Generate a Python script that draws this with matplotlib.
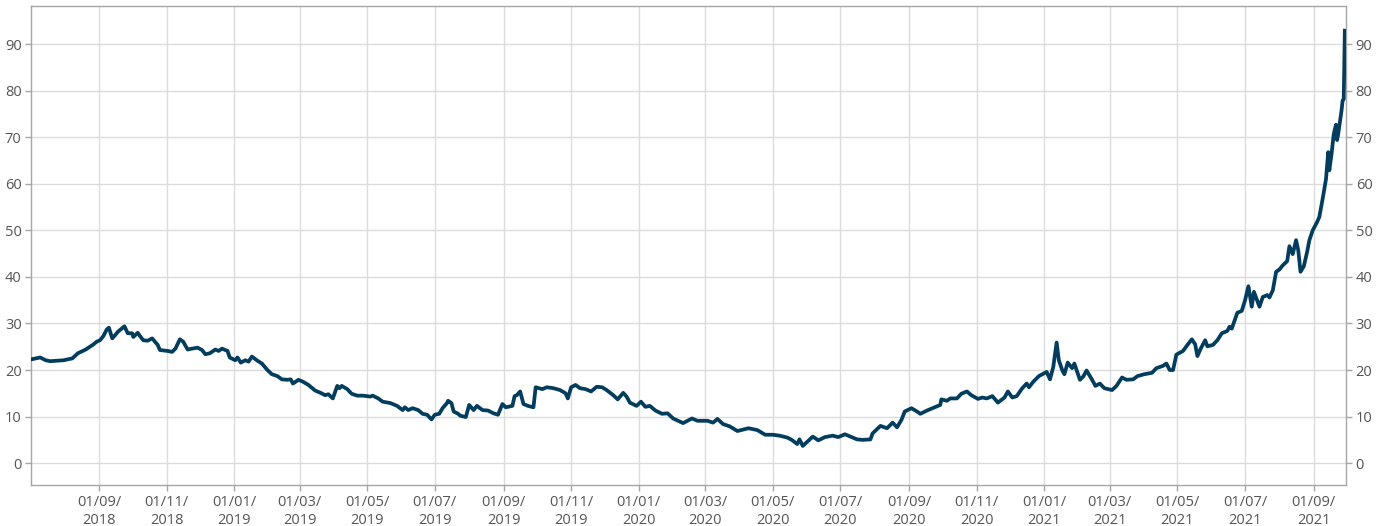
import matplotlib
matplotlib.use("Agg")
import matplotlib.pyplot as plt
import matplotlib.dates as mdates
import pandas as pd

dates = [
    "2018-07-02", "2018-07-10", "2018-07-15", "2018-07-19", "2018-07-31", "2018-08-08", "2018-08-13",
    "2018-08-20", "2018-08-27", "2018-08-30", "2018-09-02", "2018-09-05", "2018-09-08", "2018-09-10",
    "2018-09-13", "2018-09-16", "2018-09-18", "2018-09-24", "2018-09-27", "2018-10-01", "2018-10-02",
    "2018-10-06", "2018-10-08", "2018-10-11", "2018-10-15", "2018-10-19", "2018-10-24", "2018-10-26",
    "2018-11-02", "2018-11-06", "2018-11-09", "2018-11-13", "2018-11-16", "2018-11-20", "2018-11-24",
    "2018-11-29", "2018-12-03", "2018-12-06", "2018-12-10", "2018-12-15", "2018-12-18", "2018-12-21",
    "2018-12-26", "2018-12-28", "2019-01-02", "2019-01-04", "2019-01-07", "2019-01-11", "2019-01-14",
    "2019-01-17", "2019-01-22", "2019-01-26", "2019-01-31", "2019-02-04", "2019-02-09", "2019-02-13",
    "2019-02-18", "2019-02-21", "2019-02-23", "2019-02-28", "2019-03-04", "2019-03-09", "2019-03-15",
    "2019-03-20", "2019-03-24", "2019-03-27", "2019-03-31", "2019-04-04", "2019-04-06", "2019-04-08",
    "2019-04-13", "2019-04-17", "2019-04-22", "2019-04-27", "2019-05-04", "2019-05-06", "2019-05-11",
    "2019-05-15", "2019-05-22", "2019-05-28", "2019-06-02", "2019-06-04", "2019-06-07", "2019-06-11",
    "2019-06-16", "2019-06-20", "2019-06-24", "2019-06-28", "2019-07-01", "2019-07-05", "2019-07-08",
    "2019-07-12", "2019-07-13", "2019-07-16", "2019-07-18", "2019-07-22", "2019-07-24", "2019-07-29",
    "2019-08-01", "2019-08-05", "2019-08-08", "2019-08-13", "2019-08-18", "2019-08-23", "2019-08-27",
    "2019-08-31", "2019-09-03", "2019-09-09", "2019-09-11", "2019-09-13", "2019-09-16", "2019-09-19",
    "2019-09-23", "2019-09-28", "2019-09-30", "2019-10-06", "2019-10-10", "2019-10-16", "2019-10-22",
    "2019-10-27", "2019-10-29", "2019-11-01", "2019-11-05", "2019-11-09", "2019-11-14", "2019-11-19",
    "2019-11-24", "2019-11-29", "2019-12-03", "2019-12-09", "2019-12-13", "2019-12-18", "2019-12-21",
    "2019-12-24", "2019-12-30", "2020-01-03", "2020-01-07", "2020-01-11", "2020-01-16", "2020-01-22",
    "2020-01-27", "2020-02-01", "2020-02-10", "2020-02-18", "2020-02-23", "2020-03-03", "2020-03-08",
    "2020-03-12", "2020-03-17", "2020-03-23", "2020-03-30", "2020-04-09", "2020-04-17", "2020-04-24",
    "2020-05-01", "2020-05-07", "2020-05-14", "2020-05-18", "2020-05-23", "2020-05-25", "2020-05-28",
    "2020-06-01", "2020-06-06", "2020-06-11", "2020-06-17", "2020-06-24", "2020-06-29", "2020-07-05",
    "2020-07-10", "2020-07-16", "2020-07-21", "2020-07-28", "2020-07-30", "2020-08-06", "2020-08-12",
    "2020-08-15", "2020-08-17", "2020-08-21", "2020-08-25", "2020-08-28", "2020-09-03", "2020-09-08",
    "2020-09-11", "2020-09-17", "2020-09-22", "2020-09-29", "2020-09-30", "2020-10-05", "2020-10-08",
    "2020-10-14", "2020-10-18", "2020-10-23", "2020-10-27", "2020-11-02", "2020-11-06", "2020-11-10",
    "2020-11-15", "2020-11-20", "2020-11-26", "2020-11-29", "2020-12-03", "2020-12-07", "2020-12-12",
    "2020-12-16", "2020-12-18", "2020-12-22", "2020-12-27", "2021-01-03", "2021-01-06", "2021-01-09",
    "2021-01-10", "2021-01-12", "2021-01-14", "2021-01-17", "2021-01-19", "2021-01-22", "2021-01-26",
    "2021-01-28", "2021-02-02", "2021-02-05", "2021-02-08", "2021-02-13", "2021-02-16", "2021-02-20",
    "2021-02-24", "2021-03-03", "2021-03-07", "2021-03-12", "2021-03-16", "2021-03-22", "2021-03-26",
    "2021-04-01", "2021-04-08", "2021-04-12", "2021-04-18", "2021-04-21", "2021-04-24", "2021-04-27",
    "2021-04-30", "2021-05-06", "2021-05-10", "2021-05-14", "2021-05-17", "2021-05-19", "2021-05-22",
    "2021-05-26", "2021-05-28", "2021-06-02", "2021-06-06", "2021-06-10", "2021-06-15", "2021-06-17",
    "2021-06-19", "2021-06-22", "2021-06-24", "2021-06-28", "2021-07-01", "2021-07-04", "2021-07-07",
    "2021-07-09", "2021-07-12", "2021-07-14", "2021-07-17", "2021-07-21", "2021-07-23", "2021-07-26",
    "2021-07-29", "2021-08-01", "2021-08-04", "2021-08-08", "2021-08-10", "2021-08-13", "2021-08-16",
    "2021-08-18", "2021-08-20", "2021-08-23", "2021-08-26", "2021-08-28", "2021-08-31", "2021-09-04",
    "2021-09-06", "2021-09-09", "2021-09-12", "2021-09-14", "2021-09-15", "2021-09-17", "2021-09-19",
    "2021-09-21", "2021-09-22", "2021-09-23", "2021-09-26", "2021-09-27", "2021-09-28", "2021-09-29",
]

values = [
    22.3, 22.7, 22.1, 21.9, 22.1, 22.5, 23.6,
    24.4, 25.5, 26.1, 26.4, 27.3, 28.7, 29.1,
    26.8, 27.6, 28.2, 29.4, 27.9, 27.9, 27.1,
    28.0, 27.3, 26.4, 26.3, 26.8, 25.4, 24.3,
    24.1, 23.9, 24.6, 26.6, 26.1, 24.4, 24.6,
    24.8, 24.3, 23.4, 23.6, 24.4, 24.1, 24.6,
    24.1, 22.7, 22.1, 22.7, 21.6, 22.1, 21.8,
    22.9, 22.0, 21.4, 20.0, 19.1, 18.7, 18.0,
    17.9, 18.0, 17.1, 17.9, 17.5, 16.8, 15.6,
    15.1, 14.6, 14.8, 13.9, 16.6, 16.1, 16.6,
    15.9, 14.9, 14.5, 14.5, 14.3, 14.5, 13.9,
    13.2, 12.9, 12.3, 11.4, 12.0, 11.4, 11.8,
    11.4, 10.6, 10.4, 9.4, 10.4, 10.6, 11.8,
    12.9, 13.4, 12.9, 11.1, 10.6, 10.2, 9.9,
    12.5, 11.4, 12.3, 11.4, 11.3, 10.7, 10.4,
    12.7, 12.0, 12.3, 14.4, 14.6, 15.4, 12.7,
    12.3, 12.0, 16.3, 15.9, 16.3, 16.1, 15.7,
    15.0, 13.9, 16.3, 16.8, 16.1, 15.9, 15.4,
    16.4, 16.3, 15.7, 14.6, 13.7, 15.1, 14.3,
    13.0, 12.3, 13.2, 12.1, 12.3, 11.3, 10.6,
    10.7, 9.6, 8.6, 9.6, 9.1, 9.1, 8.7,
    9.5, 8.4, 7.9, 6.9, 7.5, 7.1, 6.1,
    6.1, 5.9, 5.5, 5.0, 4.1, 5.1, 3.7,
    4.6, 5.7, 4.9, 5.6, 5.9, 5.6, 6.2,
    5.7, 5.1, 5.0, 5.1, 6.4, 8.0, 7.5,
    8.2, 8.7, 7.7, 9.3, 11.1, 11.8, 11.1,
    10.6, 11.3, 11.8, 12.5, 13.7, 13.4, 13.9,
    13.9, 14.9, 15.4, 14.6, 13.8, 14.1, 13.9,
    14.4, 13.0, 14.1, 15.4, 14.1, 14.4, 16.1,
    17.1, 16.3, 17.5, 18.7, 19.6, 18.0, 20.7,
    22.5, 25.9, 22.1, 20.0, 19.1, 21.6, 20.4,
    21.4, 17.9, 18.6, 19.9, 17.9, 16.6, 17.1,
    16.1, 15.7, 16.6, 18.4, 17.9, 18.0, 18.7,
    19.1, 19.4, 20.4, 20.9, 21.4, 20.0, 20.0,
    23.3, 24.1, 25.4, 26.6, 25.5, 23.0, 24.6,
    26.4, 25.1, 25.4, 26.4, 27.9, 28.4, 29.3,
    28.9, 30.9, 32.3, 32.7, 35.0, 38.0, 33.6,
    36.8, 34.9, 33.6, 35.7, 36.1, 35.6, 37.1,
    41.1, 41.6, 42.5, 43.4, 46.6, 44.9, 47.9,
    45.7, 41.1, 42.3, 45.4, 47.9, 50.0, 51.8,
    52.9, 56.8, 61.0, 66.8, 62.9, 66.4, 70.7,
    72.7, 69.4, 70.7, 75.7, 77.9, 78.2, 92.9,
]

y_ticks = [0, 10, 20, 30, 40, 50, 60, 70, 80, 90]
x_start, x_end = "2018-07-02", "2021-09-30"
tick_start, tick_end = "2018-09-01", "2021-09-01"

line_color = "#033d5e"
text_color = "#555555"
grid_color = "#dcdcdc"
spine_color = "#a6a6a6"

plt.rcParams["font.family"] = ["Open Sans", "DejaVu Sans"]

x = pd.to_datetime(dates)
fig = plt.figure(figsize=(13.86, 5.26), dpi=100)
ax = fig.add_axes([0.0226, 0.0779, 0.9485, 0.9107])

ax.plot(x, values, color=line_color, lw=2.7, solid_joinstyle="round", zorder=3)

ax.set_xlim(pd.Timestamp(x_start), pd.Timestamp(x_end))
ax.set_ylim(-4.7, 98.2)
ax.set_yticks(y_ticks)

xt = pd.date_range(tick_start, tick_end, freq="2MS")
ax.set_xticks(xt)
ax.set_xticklabels([d.strftime("%d/%m/\n%Y") for d in xt])

ax.grid(True, color=grid_color, lw=1.0, zorder=0)
ax.set_axisbelow(True)
for s in ax.spines.values():
    s.set_color(spine_color)
    s.set_linewidth(1.0)

ax.tick_params(axis="both", colors=spine_color, labelcolor=text_color,
               labelsize=10.5, length=4, width=1.0)
ax.tick_params(axis="y", labelleft=True, labelright=True, left=True, right=True, pad=3)
ax.tick_params(axis="x", pad=3)
for lab in ax.get_xticklabels():
    lab.set_linespacing(1.3)

fig.savefig("out.png", dpi=100)
